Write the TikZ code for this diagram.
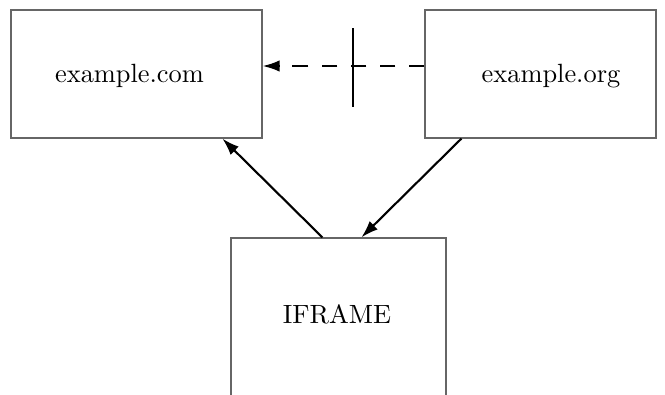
\documentclass[tikz,border=0pt]{standalone}
\usetikzlibrary{arrows.meta,fit,calc}
\begin{document}
\begin{tikzpicture}[x=0.379pt,y=-0.379pt,
  box/.style={draw=black!60,line width=0.45pt,inner sep=0pt},
  lbl/.style={inner sep=0pt,anchor=base,font=\fontsize{10}{12}\selectfont},
  arr/.style={line width=0.8pt,-{Latex[length=6.5pt,width=4.4pt]}},
  darr/.style={arr,dash pattern=on 6pt off 5pt}]
\clip (0,0) rectangle (665,394);
\node[box,fit={(11,10) (262,138)}] (com) {};
\node[box,fit={(425,10) (656,138)}] (org) {};
\node[box,fit={(231,238) (446,420)}] (ifr) {};
\node[lbl] (comt) at (129.5,82) {example.com};
\node[lbl] (orgt) at (551,82) {example.org};
\node[lbl] (ifrt) at (337,323) {IFRAME};
\draw[darr] ($(org.west)+(0,-8)$) -- ($(com.east)+(0,-8)$);
\coordinate (bt) at (353,28);
\coordinate (bb) at (353,107);
\draw[line width=0.8pt] (bt) -- (bb);
\draw[arr] ($(ifr.north west)+(92,0)$) -- ($(com.south west)+(212,0)$);
\draw[arr] ($(org.south west)+(37,0)$) -- ($(ifr.north west)+(131,0)$);
\end{tikzpicture}
\end{document}
